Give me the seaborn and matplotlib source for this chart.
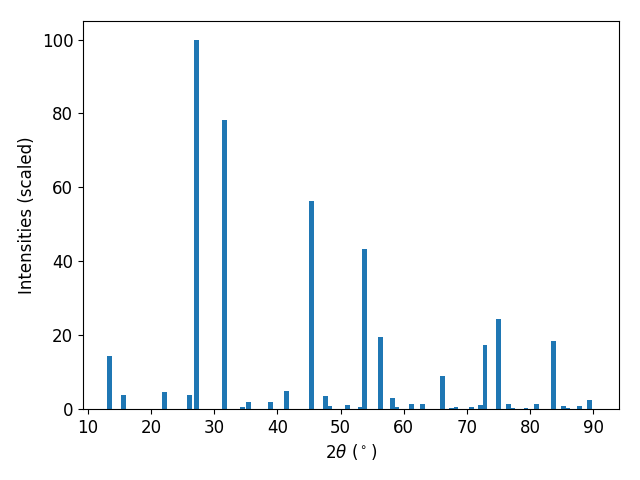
import numpy as np
import pandas as pd
import matplotlib
matplotlib.use("Agg")
import matplotlib.pyplot as plt
import seaborn as sns

two_theta = [13.4, 15.6, 22.1, 26.05, 27.16, 31.58, 34.42, 35.37, 38.9, 41.42,
             45.36, 47.6, 48.3, 51.1, 53.1, 53.8, 56.3, 58.2, 58.9, 61.3,
             63.0, 66.1, 67.6, 68.3, 70.7, 72.2, 72.9, 75.0, 76.6, 77.3,
             79.4, 81.0, 83.7, 85.3, 86.0, 87.9, 89.5]
intensity = [14.4, 3.8, 4.6, 3.8, 100.0, 78.2, 0.5, 1.9, 1.9, 4.9,
             56.3, 3.5, 0.8, 1.1, 0.5, 43.4, 19.5, 3.0, 0.5, 1.3,
             1.3, 8.9, 0.3, 0.5, 0.5, 1.1, 17.3, 24.4, 1.3, 0.3,
             0.3, 1.3, 18.4, 0.8, 0.3, 0.8, 2.4]

plt.rcParams['font.size'] = 12
df = pd.DataFrame({"two_theta": two_theta, "intensity": intensity})

fig, ax = plt.subplots(figsize=(6.4, 4.8), dpi=100)
bar_w = 0.76
min_gap = np.diff(np.sort(np.unique(df["two_theta"]))).min()
sns.barplot(data=df, x="two_theta", y="intensity", native_scale=True,
            errorbar=None, color="#1f77b4", saturation=1,
            width=bar_w / min_gap, ax=ax)
ax.set_xlim(9.2, 94.1)
ax.set_ylim(0, 105)
ax.set_xticks([10, 20, 30, 40, 50, 60, 70, 80, 90])
ax.set_xlabel(r"$2\theta$ ($^\circ$)")
ax.set_ylabel("Intensities (scaled)")
fig.subplots_adjust(left=0.1297, right=0.967, top=0.956, bottom=0.148)
fig.savefig("out.png", dpi=100)
